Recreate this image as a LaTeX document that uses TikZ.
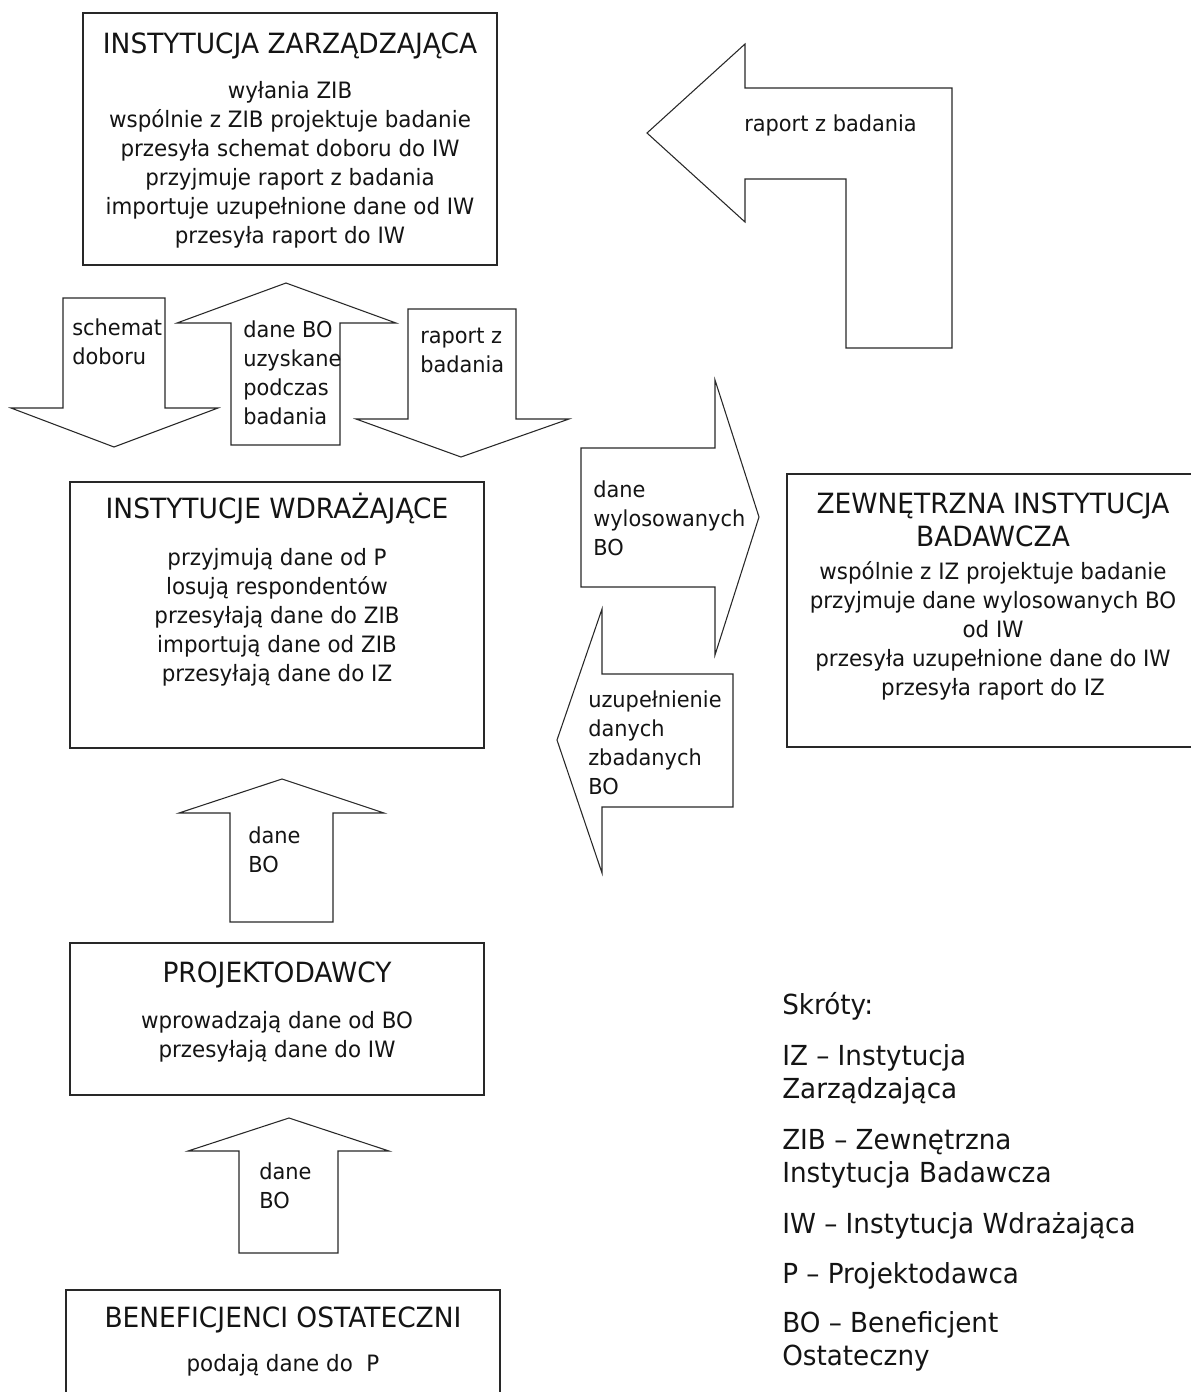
\documentclass[tikz,border=0pt]{standalone}
\usepackage{fontspec}
\setmainfont{DejaVu Sans}[FakeStretch=0.95]
\definecolor{flowink}{RGB}{20,20,20}
\definecolor{flowline}{RGB}{40,40,40}
\tikzset{
  flowbox/.style={draw=flowline, line width=0.9pt, fill=white},
  flowarrow/.style={draw=flowline, line width=0.8pt, fill=white, line join=miter},
  flowtitle/.style={font=\fontsize{20.9}{24.75}\selectfont, text=flowink,
    inner sep=0pt, align=center, anchor=base},
  flowbody/.style={font=\fontsize{16.9}{21.75}\selectfont, text=flowink,
    inner sep=0pt, align=center, anchor=north},
  flowlabel/.style={font=\fontsize{16.5}{21.75}\selectfont, text=flowink,
    inner sep=0pt, align=left, anchor=north west},
  flowlegend/.style={font=\fontsize{20.7}{24.75}\selectfont, text=flowink,
    inner sep=0pt, align=left, anchor=north west},
}

\begin{document}
\begin{tikzpicture}[x=0.75pt, y=-0.75pt]
  \useasboundingbox (0,0) rectangle (1190,1392);
  \fill[white] (0,0) rectangle (1190,1392);

  % instytucja zarzadzajaca
  \draw[flowbox] (83,13) rectangle (497,265);
  \node[flowtitle] (iztitle) at (290,53) {INSTYTUCJA ZARZĄDZAJĄCA};
  \node[flowbody] (izbody) at (290,81) {wyłania ZIB\\
    wspólnie z ZIB projektuje badanie\\
    przesyła schemat doboru do IW\\
    przyjmuje raport z badania\\
    importuje uzupełnione dane od IW\\
    przesyła raport do IW};

  % raport ZIB -> IZ
  \draw[flowarrow] (952,88) -- (952,348) -- (846,348) -- (846,179) -- (745,179)
    -- (745,222) -- (647,133) -- (745,44) -- (745,88) -- cycle;
  \node[flowlabel] (raportiz) at (744,115) {raport z badania};

  % strzalki IZ <-> IW
  \draw[flowarrow] (63,298) -- (165,298) -- (165,408) -- (218,408) -- (114,447)
    -- (11,408) -- (63,408) -- cycle;
  \node[flowlabel] (schemat) at (72,319) {schemat\\doboru};
  \draw[flowarrow] (231,445) -- (231,323) -- (177,323) -- (286,283) -- (396,323)
    -- (340,323) -- (340,445) -- cycle;
  \node[flowlabel] (daneuzysk) at (243,321) {dane BO\\uzyskane\\podczas\\badania};
  \draw[flowarrow] (408,309) -- (516,309) -- (516,419) -- (569,419) -- (461,457)
    -- (356,419) -- (408,419) -- cycle;
  \node[flowlabel] (raportiw) at (420,328) {raport z\\badania};

  % instytucje wdrazajace
  \draw[flowbox] (70,482) rectangle (484,748);
  \node[flowtitle] (iwtitle) at (277,518) {INSTYTUCJE WDRAŻAJĄCE};
  \node[flowbody] (iwbody) at (277,548) {przyjmują dane od P\\
    losują respondentów\\
    przesyłają dane do ZIB\\
    importują dane od ZIB\\
    przesyłają dane do IZ};

  % strzalki IW <-> ZIB
  \draw[flowarrow] (581,448) -- (715,448) -- (715,380) -- (759,517) -- (715,655)
    -- (715,587) -- (581,587) -- cycle;
  \node[flowlabel] (wylos) at (593,481) {dane\\wylosowanych\\BO};
  \draw[flowarrow] (733,674) -- (602,674) -- (602,609) -- (557,740) -- (602,873)
    -- (602,807) -- (733,807) -- cycle;
  \node[flowlabel] (uzupel) at (588,691) {uzupełnienie\\danych\\zbadanych\\BO};

  % zewnetrzna instytucja badawcza
  \draw[flowbox] (787,474) rectangle (1200,747);
  \node[flowtitle] (zibtitle) at (993,513) {ZEWNĘTRZNA INSTYTUCJA};
  \node[flowtitle] (zibtitleb) at (993,546) {BADAWCZA};
  \node[flowbody] (zibbody) at (993,561) {wspólnie z IZ projektuje badanie\\
    przyjmuje dane wylosowanych BO\\
    od IW\\
    przesyła uzupełnione dane do IW\\
    przesyła raport do IZ};

  % P -> IW
  \draw[flowarrow] (230,922) -- (230,813) -- (179,813) -- (282,779) -- (384,813)
    -- (333,813) -- (333,922) -- cycle;
  \node[flowlabel] (danep) at (248,827) {dane\\BO};

  % projektodawcy
  \draw[flowbox] (70,943) rectangle (484,1095);
  \node[flowtitle] (ptitle) at (277,982) {PROJEKTODAWCY};
  \node[flowbody] (pbody) at (277,1011) {wprowadzają dane od BO\\
    przesyłają dane do IW};

  % BO -> P
  \draw[flowarrow] (239,1253) -- (239,1151) -- (188,1151) -- (289,1118) -- (389,1151)
    -- (338,1151) -- (338,1253) -- cycle;
  \node[flowlabel] (danebo) at (259,1163) {dane\\BO};

  % beneficjenci ostateczni
  \draw[flowbox] (66,1290) rectangle (500,1400);
  \node[flowtitle] (botitle) at (283,1327) {BENEFICJENCI OSTATECZNI};
  \node[flowbody] (bobody) at (283,1354) {podają dane do\ \ P};

  % skroty
  \node[flowlegend] (skroty) at (782,992) {Skróty:};
  \node[flowlegend] (legiz) at (782,1044) {IZ – Instytucja\\Zarządzająca};
  \node[flowlegend] (legzib) at (782,1129) {ZIB – Zewnętrzna\\Instytucja Badawcza};
  \node[flowlegend] (legiw) at (782,1212) {IW – Instytucja Wdrażająca};
  \node[flowlegend] (legp) at (782,1262) {P – Projektodawca};
  \node[flowlegend] (legbo) at (782,1311) {BO – Beneficjent\\Ostateczny};
\end{tikzpicture}
\end{document}
